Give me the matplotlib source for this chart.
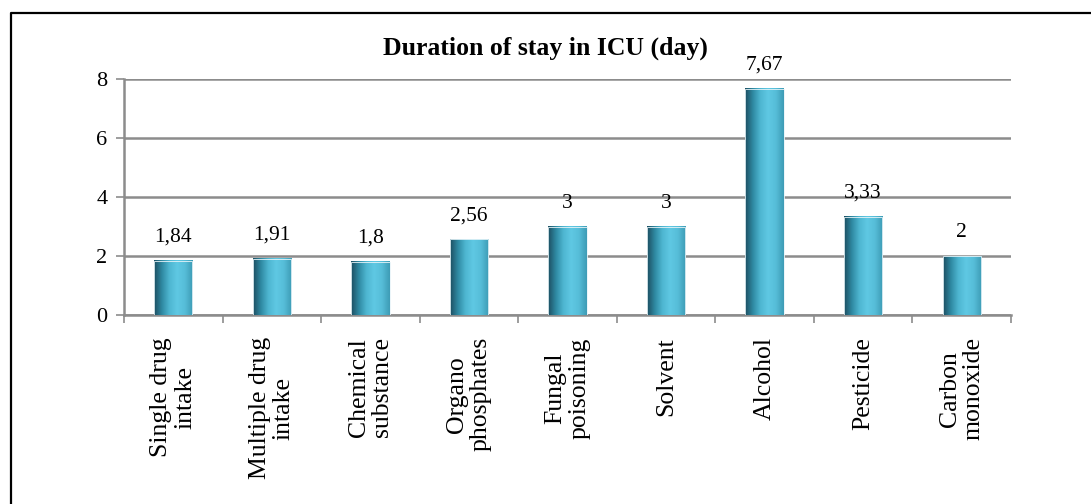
import numpy as np
import matplotlib.pyplot as plt
from matplotlib.colors import LinearSegmentedColormap
from matplotlib.patches import Rectangle
from matplotlib.lines import Line2D

categories = ['Single drug\nintake', 'Multiple drug\nintake', 'Chemical\nsubstance',
              'Organo\nphosphates', 'Fungal\npoisoning', 'Solvent', 'Alcohol',
              'Pesticide', 'Carbon\nmonoxide']
days = [1.84, 1.91, 1.8, 2.56, 3, 3, 7.67, 3.33, 2]
day_labels = ['1,84', '1,91', '1,8', '2,56', '3', '3', '7,67', '3,33', '2']

plt.rcParams['font.family'] = ['Liberation Serif', 'DejaVu Serif']

fig = plt.figure(figsize=(10.91, 5.04), dpi=100)
ax = fig.add_axes([124 / 1091, 1 - 315 / 504, (1011 - 124) / 1091, (315 - 79) / 504])

# cylinder-like shading for the bars
cyl = LinearSegmentedColormap.from_list('cyl', ['#1d4f62', '#2f8aa3', '#4fb7d2',
                                                '#5fc8e3', '#56bdd8', '#3e9cb6'])
grad = np.linspace(0, 1, 64).reshape(1, -1)

x = np.arange(len(categories))
width = 0.39
bars = ax.bar(x, days, width=width, color='none', zorder=3)
for b in bars:
    x0, y0 = b.get_x(), b.get_y()
    w, h = b.get_width(), b.get_height()
    ax.imshow(grad, cmap=cyl, aspect='auto', extent=[x0, x0 + w, y0, y0 + h],
              zorder=3, interpolation='bicubic')
    ax.add_patch(Rectangle((x0, y0), w, h, fill=False, edgecolor='#e8f4f8',
                           linewidth=0.6, zorder=4))

for xi, v, lab in zip(x, days, day_labels):
    ax.annotate(lab, (xi, v), xytext=(0, 10), textcoords='offset points',
                ha='center', va='bottom', fontsize=15.5)

ax.set_xlim(-0.5, len(categories) - 0.5)
ax.set_ylim(0, 8)
ax.set_yticks([0, 2, 4, 6, 8])
ax.yaxis.grid(True, color='#8c8c8c', linewidth=1.8, zorder=0)
ax.set_axisbelow(True)

ax.set_xticks(x)
ax.set_xticklabels(categories, rotation=90, fontsize=18.5, linespacing=1.1,
                   multialignment='center', va='top')
ax.tick_params(axis='x', which='major', length=0, pad=16)
ax.set_xticks(np.arange(len(categories) + 1) - 0.5, minor=True)
ax.tick_params(axis='x', which='minor', length=6, color='#8c8c8c', width=1.2)
ax.tick_params(axis='y', labelsize=16, length=6, color='#8c8c8c', width=1.2, pad=6)

for s in ['top', 'right']:
    ax.spines[s].set_visible(False)
for s in ['left', 'bottom']:
    ax.spines[s].set_color('#8c8c8c')
    ax.spines[s].set_linewidth(1.8)

fig.text(0.5, 1 - 48 / 504, 'Duration of stay in ICU (day)', ha='center', va='center',
         fontsize=18.5, fontweight='bold')

# frame: only the top and left edges fall inside the picture
fig.lines.append(Line2D([11 / 1091, 11 / 1091, 1.0], [0.0, 1 - 13 / 504, 1 - 13 / 504],
                        transform=fig.transFigure, color='black', linewidth=1.6))

fig.savefig('out.png', dpi=100)
